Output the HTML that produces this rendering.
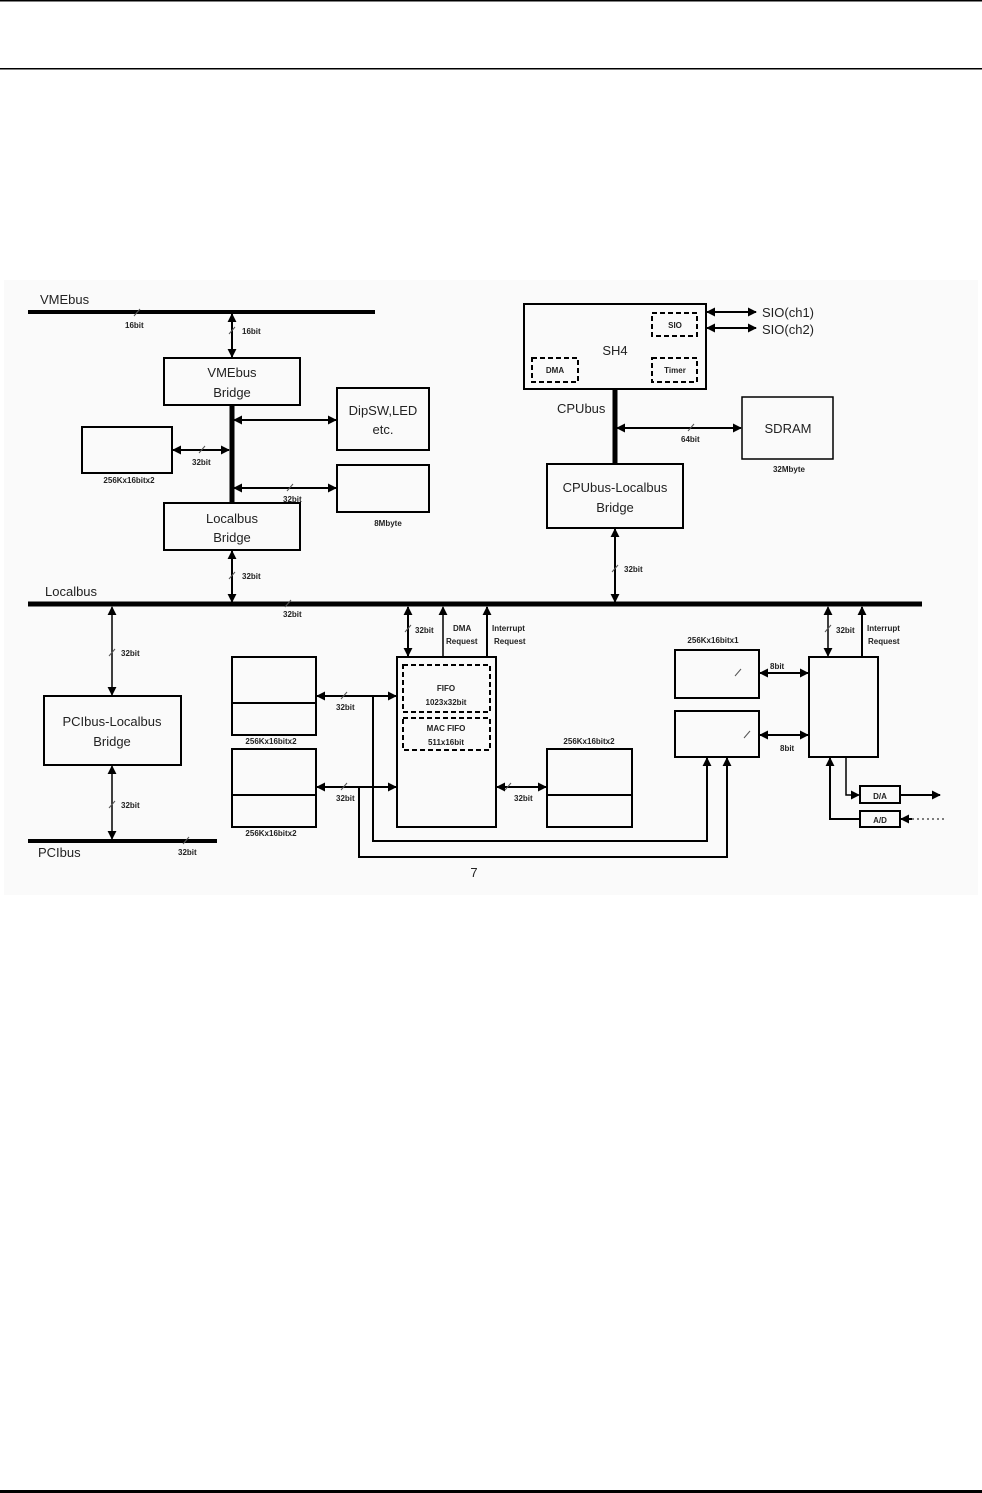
<!DOCTYPE html>
<html><head><meta charset="utf-8"><style>
html,body{margin:0;padding:0;background:#fff;}
svg{display:block;}
text{font-family:"Liberation Sans",sans-serif;fill:#222;}
.s{font-size:8px;font-weight:bold;}
.m{font-size:13px;}
.t{font-size:9px;}
</style></head><body>
<svg width="982" height="1493" viewBox="0 0 982 1493" xmlns="http://www.w3.org/2000/svg">
<defs>
<marker id="a" viewBox="0 0 10 10" refX="9" refY="5" markerWidth="9" markerHeight="9" markerUnits="userSpaceOnUse" orient="auto-start-reverse"><path d="M0,0L10,5L0,10z" fill="#000"/></marker>
</defs>
<rect x="0" y="0" width="982" height="1.5" fill="#000"/>
<rect x="0" y="68" width="982" height="1.5" fill="#000"/>
<rect x="0" y="1490" width="982" height="3" fill="#000"/>
<rect x="4" y="280" width="974" height="615" fill="#fafafa"/>

<g stroke="#000" fill="none" stroke-width="2">
<!-- buses -->
<line x1="28" y1="312" x2="375" y2="312" stroke-width="4"/>
<line x1="28" y1="604" x2="922" y2="604" stroke-width="5"/>
<line x1="28" y1="841" x2="217" y2="841" stroke-width="4"/>
<line x1="232" y1="405" x2="232" y2="503" stroke-width="5"/>
<line x1="615" y1="389" x2="615" y2="464" stroke-width="5"/>

<!-- boxes -->
<rect x="164" y="358" width="136" height="47"/>
<rect x="164" y="503" width="136" height="47"/>
<rect x="337" y="388" width="92" height="62"/>
<rect x="82" y="427" width="90" height="46"/>
<rect x="337" y="465" width="92" height="47"/>
<rect x="44" y="696" width="137" height="69"/>
<rect x="232" y="657" width="84" height="78"/><line x1="232" y1="703" x2="316" y2="703"/>
<rect x="232" y="749" width="84" height="78"/><line x1="232" y1="795" x2="316" y2="795"/>
<rect x="397" y="657" width="99" height="170"/>
<rect x="547" y="749" width="85" height="78"/><line x1="547" y1="795" x2="632" y2="795"/>
<rect x="675" y="650" width="84" height="48"/>
<rect x="675" y="711" width="84" height="46"/>
<rect x="809" y="657" width="69" height="100"/>
<rect x="860" y="786" width="40" height="17"/>
<rect x="860" y="811" width="40" height="16"/>
<rect x="524" y="304" width="182" height="85"/>
<rect x="742" y="397" width="91" height="62" stroke-width="1.5"/>
<rect x="547" y="464" width="136" height="64"/>
</g>
<g stroke="#000" fill="none" stroke-width="2" stroke-dasharray="5,3">
<rect x="403" y="665" width="87" height="47"/>
<rect x="403" y="718" width="87" height="32"/>
<rect x="652" y="313" width="45" height="23"/>
<rect x="532" y="358" width="46" height="24"/>
<rect x="652" y="358" width="45" height="24"/>
</g>

<!-- arrows -->
<g stroke="#000" fill="none" stroke-width="2">
<line x1="232" y1="314" x2="232" y2="357" marker-start="url(#a)" marker-end="url(#a)"/>
<line x1="234" y1="420" x2="336" y2="420" marker-start="url(#a)" marker-end="url(#a)"/>
<line x1="173" y1="450" x2="229" y2="450" marker-start="url(#a)" marker-end="url(#a)"/>
<line x1="234" y1="488" x2="336" y2="488" marker-start="url(#a)" marker-end="url(#a)"/>
<line x1="232" y1="551" x2="232" y2="602" marker-start="url(#a)" marker-end="url(#a)"/>
<line x1="112" y1="607" x2="112" y2="695" marker-start="url(#a)" marker-end="url(#a)" stroke-width="1.5"/>
<line x1="112" y1="766" x2="112" y2="839" marker-start="url(#a)" marker-end="url(#a)" stroke-width="1.5"/>
<line x1="317" y1="696" x2="396" y2="696" marker-start="url(#a)" marker-end="url(#a)"/>
<line x1="317" y1="787" x2="396" y2="787" marker-start="url(#a)" marker-end="url(#a)"/>
<polyline points="373,696 373,841 707,841 707,758" marker-end="url(#a)"/>
<polyline points="359,787 359,857 727,857 727,758" marker-end="url(#a)"/>
<line x1="408" y1="607" x2="408" y2="656" marker-start="url(#a)" marker-end="url(#a)"/>
<line x1="443" y1="657" x2="443" y2="607" marker-end="url(#a)" stroke-width="1.5"/>
<line x1="487" y1="657" x2="487" y2="607" marker-end="url(#a)"/>
<line x1="497" y1="787" x2="546" y2="787" marker-start="url(#a)" marker-end="url(#a)"/>
<line x1="760" y1="673" x2="808" y2="673" marker-start="url(#a)" marker-end="url(#a)"/>
<line x1="760" y1="735" x2="808" y2="735" marker-start="url(#a)" marker-end="url(#a)"/>
<line x1="828" y1="607" x2="828" y2="656" marker-start="url(#a)" marker-end="url(#a)" stroke-width="1.5"/>
<line x1="862" y1="657" x2="862" y2="607" marker-end="url(#a)"/>
<polyline points="846,757 846,795 859,795" marker-end="url(#a)" stroke-width="1.5"/>
<line x1="900" y1="795" x2="940" y2="795" marker-end="url(#a)"/>
<polyline points="860,819 830,819 830,758" marker-end="url(#a)"/>
<line x1="912" y1="819" x2="901" y2="819" marker-end="url(#a)"/>
<line x1="912" y1="819" x2="945" y2="819" stroke-dasharray="2,3" stroke-width="1"/>
<line x1="707" y1="312" x2="756" y2="312" marker-start="url(#a)" marker-end="url(#a)"/>
<line x1="707" y1="328" x2="756" y2="328" marker-start="url(#a)" marker-end="url(#a)"/>
<line x1="617" y1="428" x2="741" y2="428" marker-start="url(#a)" marker-end="url(#a)"/>
<line x1="615" y1="529" x2="615" y2="602" marker-start="url(#a)" marker-end="url(#a)"/>
</g>
<!-- slashes -->
<g stroke="#555" stroke-width="1">
<line x1="134" y1="316" x2="140" y2="309"/><line x1="229" y1="334" x2="235" y2="327"/>
<line x1="199" y1="453" x2="205" y2="446"/><line x1="287" y1="491" x2="293" y2="484"/>
<line x1="229" y1="579" x2="235" y2="572"/><line x1="285" y1="607" x2="291" y2="600"/>
<line x1="109" y1="656" x2="115" y2="649"/><line x1="109" y1="808" x2="115" y2="801"/>
<line x1="183" y1="844" x2="189" y2="837"/><line x1="341" y1="699" x2="347" y2="692"/>
<line x1="341" y1="790" x2="347" y2="783"/><line x1="405" y1="632" x2="411" y2="625"/>
<line x1="505" y1="790" x2="511" y2="783"/><line x1="735" y1="676" x2="741" y2="669"/>
<line x1="744" y1="738" x2="750" y2="731"/><line x1="825" y1="632" x2="831" y2="625"/>
<line x1="688" y1="431" x2="694" y2="424"/><line x1="612" y1="572" x2="618" y2="565"/>
</g>

<!-- text -->
<text x="40" y="304" class="m">VMEbus</text>
<text x="125" y="328" class="s">16bit</text>
<text x="242" y="334" class="s">16bit</text>
<text x="232" y="377" class="m" text-anchor="middle">VMEbus</text>
<text x="232" y="397" class="m" text-anchor="middle">Bridge</text>
<text x="383" y="415" class="m" text-anchor="middle">DipSW,LED</text>
<text x="383" y="434" class="m" text-anchor="middle">etc.</text>
<text x="192" y="465" class="s">32bit</text>
<text x="129" y="483" class="s" text-anchor="middle">256Kx16bitx2</text>
<text x="283" y="502" class="s">32bit</text>
<text x="388" y="526" class="s" text-anchor="middle">8Mbyte</text>
<text x="232" y="523" class="m" text-anchor="middle">Localbus</text>
<text x="232" y="542" class="m" text-anchor="middle">Bridge</text>
<text x="242" y="579" class="s">32bit</text>
<text x="45" y="596" class="m">Localbus</text>
<text x="283" y="617" class="s">32bit</text>
<text x="121" y="656" class="s">32bit</text>
<text x="112" y="726" class="m" text-anchor="middle">PCIbus-Localbus</text>
<text x="112" y="746" class="m" text-anchor="middle">Bridge</text>
<text x="121" y="808" class="s">32bit</text>
<text x="38" y="857" class="m">PCIbus</text>
<text x="178" y="855" class="s">32bit</text>
<text x="271" y="744" class="s" text-anchor="middle">256Kx16bitx2</text>
<text x="271" y="836" class="s" text-anchor="middle">256Kx16bitx2</text>
<text x="336" y="710" class="s">32bit</text>
<text x="336" y="801" class="s">32bit</text>
<text x="415" y="633" class="s">32bit</text>
<text x="453" y="631" class="s">DMA</text>
<text x="446" y="644" class="s">Request</text>
<text x="492" y="631" class="s">Interrupt</text>
<text x="494" y="644" class="s">Request</text>
<text x="446" y="691" class="s" text-anchor="middle">FIFO</text>
<text x="446" y="705" class="s" text-anchor="middle">1023x32bit</text>
<text x="446" y="731" class="s" text-anchor="middle">MAC FIFO</text>
<text x="446" y="745" class="s" text-anchor="middle">511x16bit</text>
<text x="589" y="744" class="s" text-anchor="middle">256Kx16bitx2</text>
<text x="514" y="801" class="s">32bit</text>
<text x="713" y="643" class="s" text-anchor="middle">256Kx16bitx1</text>
<text x="770" y="669" class="s">8bit</text>
<text x="780" y="751" class="s">8bit</text>
<text x="836" y="633" class="s">32bit</text>
<text x="867" y="631" class="s">Interrupt</text>
<text x="868" y="644" class="s">Request</text>
<text x="880" y="799" class="s" text-anchor="middle">D/A</text>
<text x="880" y="823" class="s" text-anchor="middle">A/D</text>
<text x="474" y="877" class="m" text-anchor="middle">7</text>
<text x="615" y="355" class="m" text-anchor="middle">SH4</text>
<text x="675" y="328" class="s" text-anchor="middle">SIO</text>
<text x="555" y="373" class="s" text-anchor="middle">DMA</text>
<text x="675" y="373" class="s" text-anchor="middle">Timer</text>
<text x="762" y="317" class="m">SIO(ch1)</text>
<text x="762" y="334" class="m">SIO(ch2)</text>
<text x="557" y="413" class="m">CPUbus</text>
<text x="788" y="433" class="m" text-anchor="middle">SDRAM</text>
<text x="681" y="442" class="s">64bit</text>
<text x="789" y="472" class="s" text-anchor="middle">32Mbyte</text>
<text x="615" y="492" class="m" text-anchor="middle">CPUbus-Localbus</text>
<text x="615" y="512" class="m" text-anchor="middle">Bridge</text>
<text x="624" y="572" class="s">32bit</text>
</svg>
</body></html>
